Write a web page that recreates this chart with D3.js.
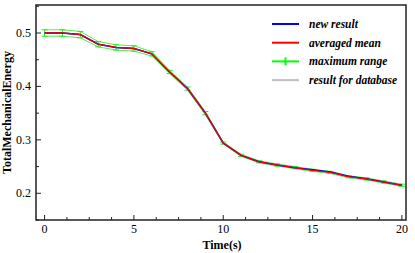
<!DOCTYPE html>
<html>
<head>
<meta charset="utf-8">
<script src="https://cdn.jsdelivr.net/npm/d3@7"></script>
<style>
  body { margin: 0; background: #fff; }
  svg text { font-family: "Liberation Serif", "DejaVu Serif", serif; }
</style>
</head>
<body>
<div id="chart"></div>
<script>
// time steps and series values
const times = d3.range(0, 21);
const meanValues = [0.500, 0.500, 0.497, 0.479, 0.473, 0.471, 0.461, 0.427, 0.396, 0.350, 0.294,
                    0.271, 0.259, 0.253, 0.248, 0.243, 0.239, 0.231, 0.227, 0.221, 0.215];
const rangeHigh = [0.506, 0.506, 0.503, 0.484, 0.478, 0.476, 0.465, 0.430, 0.399, 0.353, 0.296,
                   0.273, 0.261, 0.255, 0.250, 0.245, 0.241, 0.233, 0.229, 0.223, 0.217];
const rangeLow = [0.494, 0.494, 0.491, 0.474, 0.468, 0.466, 0.457, 0.424, 0.393, 0.347, 0.292,
                  0.269, 0.257, 0.251, 0.246, 0.241, 0.237, 0.229, 0.225, 0.219, 0.213];
const newResult = [0.500, 0.500, 0.497, 0.479, 0.473, 0.471, 0.461, 0.427, 0.396, 0.350, 0.294,
                   0.271, 0.259, 0.253, 0.248, 0.244, 0.240, 0.232, 0.227, 0.221, 0.215];
const dbResult = [0.500, 0.500, 0.497, 0.479, 0.473, 0.471, 0.461, 0.427, 0.396, 0.350, 0.294,
                  0.271, 0.259, 0.253, 0.248, 0.243, 0.239, 0.231, 0.227, 0.221, 0.215];
const xTicks = [0, 5, 10, 15, 20];
const yTicks = [0.2, 0.3, 0.4, 0.5];
const legendItems = [
    { label: "new result", color: "#0000ff" },
    { label: "averaged mean", color: "#ff0000" },
    { label: "maximum range", color: "#00ff00", bar: true },
    { label: "result for database", color: "#c0c0c0" }
];

const width = 415, height = 253;
const margin = { top: 5, right: 9, bottom: 33, left: 36 };

const svg = d3.select("#chart").append("svg")
    .attr("width", width)
    .attr("height", height);

const x = d3.scaleLinear().domain([-0.48, 20.23]).range([margin.left, width - margin.right]);
const y = d3.scaleLinear().domain([0.15, 0.5524]).range([height - margin.bottom, margin.top]);

const x0 = margin.left, x1 = width - margin.right;
const y0 = height - margin.bottom, y1 = margin.top;

// minor + major ticks, pointing inward
const xMinor = d3.range(0, 20.01, 1.25);
const yMinor = d3.range(0.15, 0.551, 0.05);

svg.append("g").selectAll("line")
    .data(xMinor)
    .join("line")
    .attr("x1", d => x(d)).attr("x2", d => x(d))
    .attr("y1", y0).attr("y2", d => y0 - (xTicks.includes(d) ? 5 : 3))
    .attr("stroke", "#222").attr("stroke-width", 1);

svg.append("g").selectAll("line")
    .data(yMinor)
    .join("line")
    .attr("x1", x0).attr("x2", d => x0 + (yTicks.some(t => Math.abs(t - d) < 1e-6) ? 5 : 3))
    .attr("y1", d => y(d)).attr("y2", d => y(d))
    .attr("stroke", "#222").attr("stroke-width", 1);

// tick labels
svg.append("g").selectAll("text")
    .data(xTicks)
    .join("text")
    .attr("x", d => x(d))
    .attr("y", y0 + 13)
    .attr("text-anchor", "middle")
    .attr("font-size", 12)
    .text(d => d);

svg.append("g").selectAll("text")
    .data(yTicks)
    .join("text")
    .attr("x", x0 - 5)
    .attr("y", d => y(d) + 4)
    .attr("text-anchor", "end")
    .attr("font-size", 12)
    .text(d => d.toFixed(1));

// axis titles
svg.append("text")
    .attr("x", (x0 + x1) / 2 + 1)
    .attr("y", height - 4)
    .attr("text-anchor", "middle")
    .attr("font-size", 12)
    .attr("font-weight", "bold")
    .text("Time(s)");

svg.append("text")
    .attr("transform", `translate(11,${(y0 + y1) / 2}) rotate(-90)`)
    .attr("text-anchor", "middle")
    .attr("font-size", 12)
    .attr("font-weight", "bold")
    .text("TotalMechanicalEnergy");

const line = vals => d3.line().x((d, i) => x(times[i])).y(d => y(d))(vals);

const plot = svg.append("g");

// range band outline and error bars
const green = "#22ee22";
[rangeHigh, rangeLow].forEach(vals => {
    plot.append("path")
        .attr("d", line(vals))
        .attr("fill", "none")
        .attr("stroke", green)
        .attr("stroke-opacity", 0.8)
        .attr("stroke-width", 1);
});

const bars = plot.append("g").selectAll("g")
    .data(times)
    .join("g");
bars.append("line")
    .attr("x1", d => x(d)).attr("x2", d => x(d))
    .attr("y1", (d, i) => y(rangeLow[i])).attr("y2", (d, i) => y(rangeHigh[i]))
    .attr("stroke", green).attr("stroke-width", 1);
[rangeLow, rangeHigh].forEach(vals => {
    bars.append("line")
        .attr("x1", d => x(d) - 3).attr("x2", d => x(d) + 3)
        .attr("y1", (d, i) => y(vals[i])).attr("y2", (d, i) => y(vals[i]))
        .attr("stroke", green).attr("stroke-width", 1);
});

plot.append("path")
    .attr("d", line(dbResult))
    .attr("fill", "none").attr("stroke", "#c0c0c0").attr("stroke-width", 1.5);
plot.append("path")
    .attr("d", line(newResult))
    .attr("fill", "none").attr("stroke", "#0000ff").attr("stroke-width", 1.5);
plot.append("path")
    .attr("d", line(meanValues))
    .attr("fill", "none").attr("stroke", "#ee0000").attr("stroke-width", 1.3);

// frame
svg.append("rect")
    .attr("x", x0).attr("y", y1)
    .attr("width", x1 - x0).attr("height", y0 - y1)
    .attr("fill", "none")
    .attr("stroke", "#222")
    .attr("stroke-width", 1.5);

// legend
const legend = svg.append("g").attr("transform", "translate(272,24)");
const row = legend.selectAll("g")
    .data(legendItems)
    .join("g")
    .attr("transform", (d, i) => `translate(0,${i * 18.7})`);
row.append("line")
    .attr("x1", 0).attr("x2", 27)
    .attr("stroke", d => d.color)
    .attr("stroke-width", 2);
row.filter(d => d.bar).append("line")
    .attr("x1", 13.5).attr("x2", 13.5).attr("y1", -4).attr("y2", 4)
    .attr("stroke", d => d.color).attr("stroke-width", 2);
row.append("text")
    .attr("x", 37)
    .attr("y", 4)
    .attr("font-size", 11.5)
    .attr("font-style", "italic")
    .attr("font-weight", "bold")
    .text(d => d.label);
</script>
</body>
</html>
